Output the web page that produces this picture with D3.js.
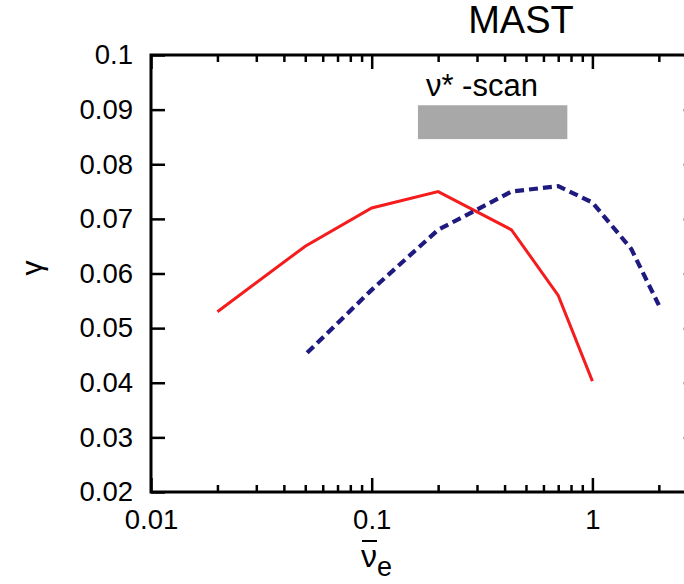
<!DOCTYPE html>
<html>
<head>
<meta charset="utf-8">
<script src="https://cdn.jsdelivr.net/npm/d3@7"></script>
<style>
  html, body { margin: 0; padding: 0; background: #fff; }
  svg { display: block; font-family: "Liberation Sans", Arial, Helvetica, sans-serif; }
</style>
</head>
<body>
<svg id="chart" width="684" height="584"></svg>
<script>
// ---- data ----
const redX = [0.02, 0.05, 0.1, 0.2, 0.43, 0.7, 1.0];
const redY = [0.053, 0.065, 0.072, 0.075, 0.068, 0.056, 0.0403];
const blueX = [0.051, 0.1, 0.2, 0.43, 0.7, 1.0, 1.5, 2.0];
const blueY = [0.0455, 0.057, 0.068, 0.075, 0.076, 0.073, 0.0645, 0.0542];
const scanX = [0.162, 0.77];
const scanY = [0.0846, 0.0908];
const xMajorTicks = [0.01, 0.1, 1];
const xMajorLabels = ["0.01", "0.1", "1"];
const xMinorTicks = [0.02,0.03,0.04,0.05,0.06,0.07,0.08,0.09,0.2,0.3,0.4,0.5,0.6,0.7,0.8,0.9,2];
const yTicks = [0.02,0.03,0.04,0.05,0.06,0.07,0.08,0.09,0.1];
const yLabels = ["0.02","0.03","0.04","0.05","0.06","0.07","0.08","0.09","0.1"];
const titleText = "MAST";
const scanLabel = "ν* -scan";

// ---- layout ----
const mLeft = 151, mTop = 55, mBottom = 492, mRight = 697.7;
const svg = d3.select("#chart");
const x = d3.scaleLog().domain([0.01, 3]).range([mLeft, mRight]);
const y = d3.scaleLinear().domain([0.02, 0.1]).range([mBottom, mTop]);

// scan bar
svg.append("rect")
  .attr("x", x(scanX[0])).attr("width", x(scanX[1]) - x(scanX[0]))
  .attr("y", y(scanY[1])).attr("height", y(scanY[0]) - y(scanY[1]))
  .attr("fill", "#a8a8a8");
svg.append("text")
  .attr("x", x(scanX[0]) + 8).attr("y", 96)
  .attr("font-size", 31).attr("fill", "#000")
  .text(scanLabel);

// axes
const tickStyle = g => {
  g.select(".domain").remove();
  g.selectAll(".tick line").attr("stroke", "#000").attr("stroke-width", 2.5);
  g.selectAll(".tick text").attr("fill", "#000").attr("font-size", 27.5);
};
const fmtX = d => xMajorLabels[xMajorTicks.indexOf(d)];
const fmtY = d => yLabels[yTicks.findIndex(v => Math.abs(v - d) < 1e-9)];

svg.append("g").attr("transform", `translate(0,${mBottom})`)
  .call(d3.axisBottom(x).tickValues(xMajorTicks).tickFormat(fmtX).tickSize(-14).tickPadding(17))
  .call(tickStyle);
svg.append("g").attr("transform", `translate(0,${mBottom})`)
  .call(d3.axisBottom(x).tickValues(xMinorTicks).tickFormat("").tickSize(-7))
  .call(tickStyle);
svg.append("g").attr("transform", `translate(0,${mTop})`)
  .call(d3.axisTop(x).tickValues(xMajorTicks).tickFormat("").tickSize(-14))
  .call(tickStyle);
svg.append("g").attr("transform", `translate(0,${mTop})`)
  .call(d3.axisTop(x).tickValues(xMinorTicks).tickFormat("").tickSize(-7))
  .call(tickStyle);
svg.append("g").attr("transform", `translate(${mLeft},0)`)
  .call(d3.axisLeft(y).tickValues(yTicks).tickFormat(fmtY).tickSize(-14).tickPadding(18))
  .call(tickStyle);
svg.append("g").attr("transform", `translate(${mRight},0)`)
  .call(d3.axisRight(y).tickValues(yTicks).tickFormat("").tickSize(-14))
  .call(tickStyle);

// frame
svg.append("rect")
  .attr("x", mLeft).attr("y", mTop).attr("width", mRight - mLeft).attr("height", mBottom - mTop)
  .attr("fill", "none").attr("stroke", "#000").attr("stroke-width", 3);

// lines
const line = d3.line().x(d => x(d[0])).y(d => y(d[1]));
svg.append("path")
  .datum(redX.map((v, i) => [v, redY[i]]))
  .attr("d", line).attr("fill", "none")
  .attr("stroke", "#f41c1c").attr("stroke-width", 3);
svg.append("path")
  .datum(blueX.map((v, i) => [v, blueY[i]]))
  .attr("d", line).attr("fill", "none")
  .attr("stroke", "#1e1a80").attr("stroke-width", 4.2)
  .attr("stroke-dasharray", "9,5");

// title
svg.append("text").attr("x", 521).attr("y", 33).attr("text-anchor", "middle")
  .attr("font-size", 38).attr("fill", "#000").text(titleText);

// y label (rotated)
svg.append("text").attr("transform", "translate(42,268) rotate(-90)").attr("text-anchor", "middle")
  .attr("font-size", 30).attr("fill", "#000").text("γ");

// x label: nu-bar with subscript e
const xl = svg.append("text").attr("x", 361).attr("y", 567).attr("font-size", 32).attr("fill", "#000");
xl.append("tspan").text("ν");
xl.append("tspan").attr("font-size", 27).attr("dy", 9).text("e");
svg.append("line").attr("x1", 362).attr("x2", 377).attr("y1", 541).attr("y2", 541)
  .attr("stroke", "#000").attr("stroke-width", 2);
</script>
</body>
</html>
